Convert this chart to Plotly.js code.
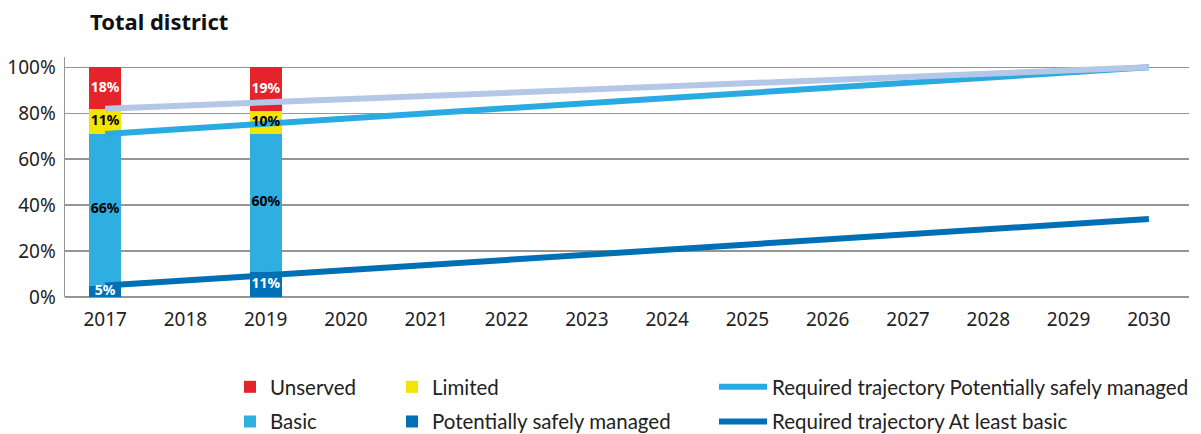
<!DOCTYPE html>
<html>
<head>
<meta charset="utf-8">
<script src="https://cdn.plot.ly/plotly-3.0.1.min.js"></script>
<style>html,body{margin:0;padding:0;background:#fff;}#chart{width:1201px;height:434px;}</style>
</head>
<body>
<div id="chart"></div>
<script>
// ---- data ----
const years = ["2017","2018","2019","2020","2021","2022","2023","2024","2025","2026","2027","2028","2029","2030"];
const barYears = ["2017","2019"];
const psm = [5, 11];
const basic = [66, 60];
const limited = [11, 10];
const unserved = [18, 19];
const trajYears = ["2017","2030"];
const trajAtLeastBasicTop = [82, 100];
const trajPSMUpper = [71, 100];
const trajAtLeastBasic = [5, 34];
const yTickVals = [0, 20, 40, 60, 80, 100];
const yTickText = ["0%","20%","40%","60%","80%","100%"];

const C = {
  unserved: "#e3242b", limited: "#f3e500", basic: "#2eaee1", psm: "#0071b6",
  lineLight: "#29abe2", lineDark: "#0070b5", lineGrey: "#b4c7e7"
};
const pct = a => a.map(v => v + "%");
const tf = "Noto Sans, sans-serif";

function bar(name, vals, color, legend, rank) {
  return {
    type: "bar", x: barYears, y: vals, name: name,
    marker: {color: color, line: {width: 0}},
    hoverinfo: "skip", legend: legend, legendgroup: name, legendrank: rank
  };
}
function line(name, xs, ys, color, show, rank) {
  return {
    type: "scatter", mode: "lines", x: xs, y: ys, name: name,
    line: {color: color, width: 6}, showlegend: show, legend: "legend3",
    legendgroup: name, legendrank: rank, hoverinfo: "skip"
  };
}
// segment label traces (drawn above the trajectory lines), positioned at stack midpoints
const stacks = [psm, basic, limited, unserved];
const labelColors = ["#ffffff", "#000000", "#000000", "#ffffff"];
const labelTraces = stacks.map((vals, i) => ({
  type: "scatter", mode: "text", x: barYears,
  y: vals.map((v, j) => stacks.slice(0, i).reduce((s, a) => s + a[j], 0) + v / 2),
  text: pct(vals), textposition: "middle center",
  textfont: {family: tf, size: 14, color: labelColors[i], weight: "bold"},
  showlegend: false, hoverinfo: "skip", cliponaxis: false
}));

const data = [
  bar("Potentially safely managed", psm, C.psm, "legend2", 2),
  bar("Basic", basic, C.basic, "legend", 2),
  bar("Limited", limited, C.limited, "legend2", 1),
  bar("Unserved", unserved, C.unserved, "legend", 1),
  line("Required trajectory Potentially safely managed", trajYears, trajPSMUpper, C.lineLight, true, 1),
  line("Required trajectory At least basic", trajYears, trajAtLeastBasic, C.lineDark, true, 2),
  line("At least basic upper", trajYears, trajAtLeastBasicTop, C.lineGrey, false, 3)
].concat(labelTraces);

const legFont = {family: "Lato, sans-serif", size: 20.5, color: "#222"};
const legCommon = {orientation: "v", font: legFont, bgcolor: "rgba(0,0,0,0)",
  xanchor: "left", yanchor: "top", traceorder: "grouped", tracegroupgap: 5, itemclick: false};
const legY = (297 - 367) / 240;

const layout = {
  width: 1201, height: 434,
  margin: {l: 65, r: 12, t: 57, b: 137, autoexpand: false},
  paper_bgcolor: "#fff", plot_bgcolor: "#fff",
  barmode: "stack", bargap: 0.6,
  title: {text: "<b>Total district</b>", x: 90/1201, xanchor: "left", xref: "container",
    y: 1 - 22/434, yanchor: "middle", yref: "container",
    font: {family: tf, size: 22, color: "#111"}},
  xaxis: {type: "category", categoryorder: "array", categoryarray: years,
    tickvals: years, ticktext: years, range: [-0.5, 13.5],
    showgrid: false, zeroline: false, showline: false, ticks: "",
    ticklabelstandoff: 9,
    tickfont: {family: tf, size: 19, color: "#222"}, fixedrange: true},
  yaxis: {range: [0, 104.5], tickvals: yTickVals, ticktext: yTickText,
    showgrid: true, gridcolor: "#959595", gridwidth: 1.5,
    zeroline: true, zerolinecolor: "#959595", zerolinewidth: 1.5,
    showline: true, linecolor: "#959595", linewidth: 1.5,
    ticks: "", ticklabelstandoff: 4,
    tickfont: {family: tf, size: 19, color: "#222"}, fixedrange: true},
  showlegend: true,
  legend: Object.assign({}, legCommon, {x: (230-65)/1124, y: legY}),
  legend2: Object.assign({}, legCommon, {x: (392-65)/1124, y: legY}),
  legend3: Object.assign({}, legCommon, {x: (714-65)/1124, y: legY, itemwidth: 48})
};

Plotly.newPlot("chart", data, layout, {displayModeBar: false, staticPlot: true});
</script>
</body>
</html>
